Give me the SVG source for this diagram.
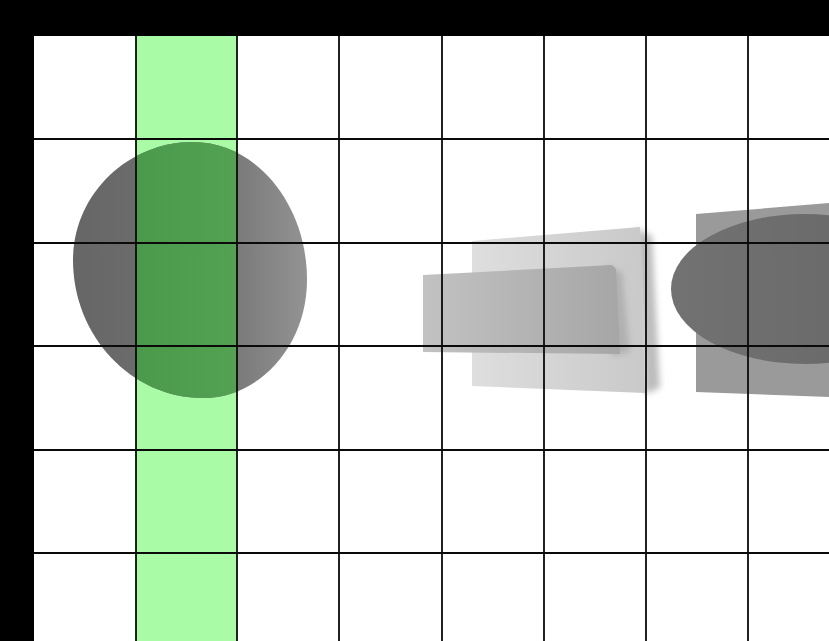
<svg xmlns="http://www.w3.org/2000/svg" width="829" height="641" viewBox="0 0 829 641">
<style>
.gl{stroke:#0a0a0a;stroke-width:1.8;fill:none}
</style>
<defs>
<linearGradient id="gCirc" x1="0" y1="0" x2="1" y2="0">
<stop offset="0" stop-color="#666"/><stop offset="0.6" stop-color="#727272"/><stop offset="1" stop-color="#939393"/>
</linearGradient>
<linearGradient id="gGreen" x1="0" y1="0" x2="1" y2="0">
<stop offset="0" stop-color="#4b9a4b"/><stop offset="1" stop-color="#53a253"/>
</linearGradient>
<linearGradient id="gBack" x1="0" y1="0" x2="1" y2="0">
<stop offset="0" stop-color="#dedede"/><stop offset="1" stop-color="#c9c9c9"/>
</linearGradient>
<linearGradient id="gFront" x1="0" y1="0" x2="1" y2="0">
<stop offset="0" stop-color="#c2c2c2"/><stop offset="1" stop-color="#a6a6a6"/>
</linearGradient>
<linearGradient id="gEll" x1="0" y1="0" x2="1" y2="0">
<stop offset="0" stop-color="#727272"/><stop offset="1" stop-color="#666"/>
</linearGradient>
<filter id="soft" x="-20%" y="-20%" width="140%" height="140%"><feGaussianBlur stdDeviation="3"/></filter>
<clipPath id="cCirc"><path d="M193,142 C256,142 307,204 307,280 C307,345 260,398 203,398 C131,398 73,336 73,260 C73,195 127,142 193,142 Z"/></clipPath>
</defs>
<rect width="829" height="641" fill="#000"/>
<rect x="34" y="36" width="795" height="605" fill="#fff"/>
<g id="green-column"><rect x="136" y="36" width="101" height="605" fill="#a9fba6"/></g>
<g id="sphere">
<path d="M193,142 C256,142 307,204 307,280 C307,345 260,398 203,398 C131,398 73,336 73,260 C73,195 127,142 193,142 Z" fill="url(#gCirc)"/>
<rect x="136" y="130" width="101" height="280" fill="url(#gGreen)" clip-path="url(#cCirc)"/>
</g>
<g id="back-box">
<path d="M636,228 L652,236 L660,388 L645,394 Z" fill="#bdbdbd" filter="url(#soft)"/>
<path d="M472,241 L640,227 L645,393 L472,386 Z" fill="url(#gBack)"/>
</g>
<g id="front-box">
<path d="M606,266 L622,272 L630,352 L612,356 Z" fill="#b0b0b0" filter="url(#soft)"/>
<path d="M423,275 L612,265 L616,269 L620,354 L423,352 Z" fill="url(#gFront)"/>
</g>
<g id="right-object">
<path d="M696,214 L829,203 L829,397 L696,392 Z" fill="#9a9a9a"/>
<ellipse cx="805" cy="289" rx="134" ry="75" fill="url(#gEll)"/>
</g>
<g id="grid">
<path class="gl" d="M136,36V641M237,36V641M339,36V641M442,36V641M544,36V641M646,36V641M748,36V641"/>
<path class="gl" d="M34,139H829M34,243H829M34,346H829M34,450H829M34,553H829"/>
</g>
</svg>
